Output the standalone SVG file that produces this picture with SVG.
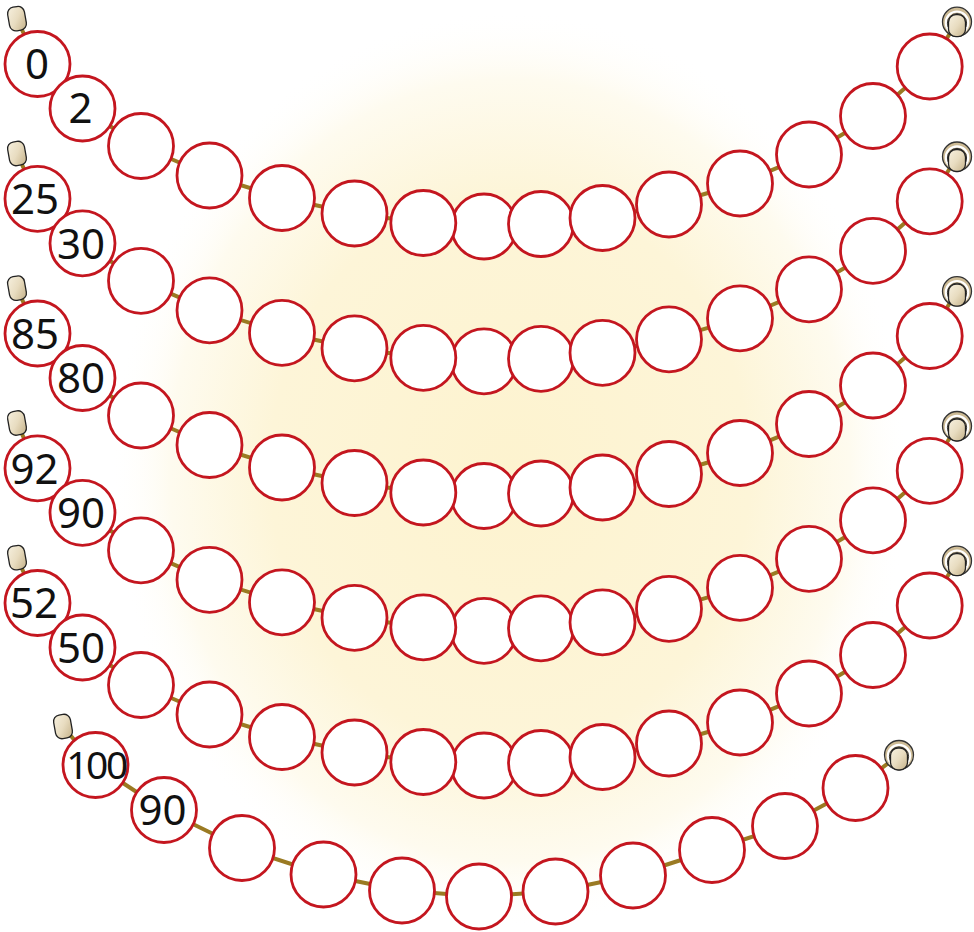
<svg xmlns="http://www.w3.org/2000/svg" width="974" height="932" viewBox="0 0 974 932">
<style>
.str{fill:none;stroke:#9a7a22;stroke-width:4;stroke-linejoin:round;stroke-linecap:round}
.bead{fill:#fff;stroke:#c4161f;stroke-width:2.8}
.lbl{font-family:"Noto Sans","DejaVu Sans",sans-serif;font-size:42px;fill:#111;text-anchor:middle}
.cap{fill:url(#capG);stroke:#222;stroke-width:1.3}
.sh-o{fill:#cdbb95;stroke:#333;stroke-width:1.3}
.sh-w{fill:none;stroke:#fff;stroke-width:2.2}
.sh-i{fill:none;stroke:#333;stroke-width:1}
</style>
<defs>
<radialGradient id="glow" cx="0.5" cy="0.5" r="0.5">
<stop offset="0" stop-color="#fdf3cf"/>
<stop offset="0.6" stop-color="#fdf5d8"/>
<stop offset="0.85" stop-color="#fefbef"/>
<stop offset="1" stop-color="#ffffff" stop-opacity="0"/>
</radialGradient>
<linearGradient id="capG" x1="0" y1="0" x2="1" y2="1">
<stop offset="0" stop-color="#f7f1e0"/>
<stop offset="0.5" stop-color="#e8dcc0"/>
<stop offset="1" stop-color="#c4b188"/>
</linearGradient>
<g id="lcap"><rect class="cap" x="-8.5" y="-12" width="17" height="24" rx="6.5"/></g>
<g id="rcap">
<circle class="sh-o" r="14.5"/>
<circle class="sh-w" r="11.2" cy="1"/>
<circle class="sh-i" r="9.6" cy="1.5"/>
<rect class="cap" x="-8.5" y="-7" width="17" height="22" rx="7.5"/>
</g>
</defs>
<rect width="974" height="932" fill="#fff"/>
<rect x="110" y="10" width="800" height="920" fill="url(#glow)"/>

<g id="connectors">
<polyline class="str" points="17,18.7 37.5,64 82.5,108.5 141,146 209.5,175.5 282,198 354.5,213.5 423.3,223 484,226.5 541,224 602.5,218 669,204.5 740,183.5 809,154.5 873,116 929.7,66.5 957,21.7"/>
<polyline class="str" points="17,153.5 37.5,198.8 82.5,243.3 141,280.8 209.5,310.3 282,332.8 354.5,348.3 423.3,357.8 484,361.3 541,358.8 602.5,352.8 669,339.3 740,318.3 809,289.3 873,250.8 929.7,201.3 957,156.5"/>
<polyline class="str" points="17,288.2 37.5,333.5 82.5,378 141,415.5 209.5,445 282,467.5 354.5,483 423.3,492.5 484,496 541,493.5 602.5,487.5 669,474 740,453 809,424 873,385.5 929.7,336 957,291.2"/>
<polyline class="str" points="17,423 37.5,468.3 82.5,512.8 141,550.3 209.5,579.8 282,602.3 354.5,617.8 423.3,627.3 484,630.8 541,628.3 602.5,622.3 669,608.8 740,587.8 809,558.8 873,520.3 929.7,470.8 957,426"/>
<polyline class="str" points="17,557.7 37.5,603 82.5,647.5 141,685 209.5,714.5 282,737 354.5,752.5 423.3,762 484,765.5 541,763 602.5,757 669,743.5 740,722.5 809,693.5 873,655 929.7,605.5 957,560.7"/>
<polyline class="str" points="63,726.5 95.5,765 164,810 242,848 323.5,874.5 402,890.5 479,896.5 555.5,891.5 633,875.5 712,850 785,826 855.5,788 899,755"/>
</g>

<g id="caps">
<use href="#lcap" transform="translate(17,18.7) rotate(-10)"/>
<use href="#lcap" transform="translate(17,153.5) rotate(-10)"/>
<use href="#lcap" transform="translate(17,288.2) rotate(-10)"/>
<use href="#lcap" transform="translate(17,423) rotate(-10)"/>
<use href="#lcap" transform="translate(17,557.7) rotate(-10)"/>
<use href="#lcap" transform="translate(63,726.5) rotate(-10)"/>
<use href="#rcap" transform="translate(957,21.7)"/>
<use href="#rcap" transform="translate(957,156.5)"/>
<use href="#rcap" transform="translate(957,291.2)"/>
<use href="#rcap" transform="translate(957,426)"/>
<use href="#rcap" transform="translate(957,560.7)"/>
<use href="#rcap" transform="translate(899,755)"/>
</g>

<g id="row1">
<g id="r1b8"><circle class="bead" cx="484" cy="226.5" r="32.5"/></g>
<g id="r1b1"><circle class="bead" cx="37.5" cy="64" r="32.5"/><text class="lbl" x="37" y="79">0</text></g>
<g id="r1b2"><circle class="bead" cx="82.5" cy="108.5" r="32.5"/><text class="lbl" x="80.5" y="123">2</text></g>
<g id="r1b3"><circle class="bead" cx="141" cy="146" r="32.5"/></g>
<g id="r1b4"><circle class="bead" cx="209.5" cy="175.5" r="32.5"/></g>
<g id="r1b5"><circle class="bead" cx="282" cy="198" r="32.5"/></g>
<g id="r1b6"><circle class="bead" cx="354.5" cy="213.5" r="32.5"/></g>
<g id="r1b7"><circle class="bead" cx="423.3" cy="223" r="32.5"/></g>
<g id="r1b9"><circle class="bead" cx="541" cy="224" r="32.5"/></g>
<g id="r1b10"><circle class="bead" cx="602.5" cy="218" r="32.5"/></g>
<g id="r1b11"><circle class="bead" cx="669" cy="204.5" r="32.5"/></g>
<g id="r1b12"><circle class="bead" cx="740" cy="183.5" r="32.5"/></g>
<g id="r1b13"><circle class="bead" cx="809" cy="154.5" r="32.5"/></g>
<g id="r1b14"><circle class="bead" cx="873" cy="116" r="32.5"/></g>
<g id="r1b15"><circle class="bead" cx="929.7" cy="66.5" r="32.5"/></g>
</g>

<g id="row2">
<g id="r2b8"><circle class="bead" cx="484" cy="361.3" r="32.5"/></g>
<g id="r2b1"><circle class="bead" cx="37.5" cy="198.8" r="32.5"/><text class="lbl" x="35" y="214">25</text></g>
<g id="r2b2"><circle class="bead" cx="82.5" cy="243.3" r="32.5"/><text class="lbl" x="81" y="258.5">30</text></g>
<g id="r2b3"><circle class="bead" cx="141" cy="280.8" r="32.5"/></g>
<g id="r2b4"><circle class="bead" cx="209.5" cy="310.3" r="32.5"/></g>
<g id="r2b5"><circle class="bead" cx="282" cy="332.8" r="32.5"/></g>
<g id="r2b6"><circle class="bead" cx="354.5" cy="348.3" r="32.5"/></g>
<g id="r2b7"><circle class="bead" cx="423.3" cy="357.8" r="32.5"/></g>
<g id="r2b9"><circle class="bead" cx="541" cy="358.8" r="32.5"/></g>
<g id="r2b10"><circle class="bead" cx="602.5" cy="352.8" r="32.5"/></g>
<g id="r2b11"><circle class="bead" cx="669" cy="339.3" r="32.5"/></g>
<g id="r2b12"><circle class="bead" cx="740" cy="318.3" r="32.5"/></g>
<g id="r2b13"><circle class="bead" cx="809" cy="289.3" r="32.5"/></g>
<g id="r2b14"><circle class="bead" cx="873" cy="250.8" r="32.5"/></g>
<g id="r2b15"><circle class="bead" cx="929.7" cy="201.3" r="32.5"/></g>
</g>

<g id="row3">
<g id="r3b8"><circle class="bead" cx="484" cy="496" r="32.5"/></g>
<g id="r3b1"><circle class="bead" cx="37.5" cy="333.5" r="32.5"/><text class="lbl" x="35" y="348.5">85</text></g>
<g id="r3b2"><circle class="bead" cx="82.5" cy="378" r="32.5"/><text class="lbl" x="81" y="393">80</text></g>
<g id="r3b3"><circle class="bead" cx="141" cy="415.5" r="32.5"/></g>
<g id="r3b4"><circle class="bead" cx="209.5" cy="445" r="32.5"/></g>
<g id="r3b5"><circle class="bead" cx="282" cy="467.5" r="32.5"/></g>
<g id="r3b6"><circle class="bead" cx="354.5" cy="483" r="32.5"/></g>
<g id="r3b7"><circle class="bead" cx="423.3" cy="492.5" r="32.5"/></g>
<g id="r3b9"><circle class="bead" cx="541" cy="493.5" r="32.5"/></g>
<g id="r3b10"><circle class="bead" cx="602.5" cy="487.5" r="32.5"/></g>
<g id="r3b11"><circle class="bead" cx="669" cy="474" r="32.5"/></g>
<g id="r3b12"><circle class="bead" cx="740" cy="453" r="32.5"/></g>
<g id="r3b13"><circle class="bead" cx="809" cy="424" r="32.5"/></g>
<g id="r3b14"><circle class="bead" cx="873" cy="385.5" r="32.5"/></g>
<g id="r3b15"><circle class="bead" cx="929.7" cy="336" r="32.5"/></g>
</g>

<g id="row4">
<g id="r4b8"><circle class="bead" cx="484" cy="630.8" r="32.5"/></g>
<g id="r4b1"><circle class="bead" cx="37.5" cy="468.3" r="32.5"/><text class="lbl" x="34.5" y="483.5">92</text></g>
<g id="r4b2"><circle class="bead" cx="82.5" cy="512.8" r="32.5"/><text class="lbl" x="81" y="528">90</text></g>
<g id="r4b3"><circle class="bead" cx="141" cy="550.3" r="32.5"/></g>
<g id="r4b4"><circle class="bead" cx="209.5" cy="579.8" r="32.5"/></g>
<g id="r4b5"><circle class="bead" cx="282" cy="602.3" r="32.5"/></g>
<g id="r4b6"><circle class="bead" cx="354.5" cy="617.8" r="32.5"/></g>
<g id="r4b7"><circle class="bead" cx="423.3" cy="627.3" r="32.5"/></g>
<g id="r4b9"><circle class="bead" cx="541" cy="628.3" r="32.5"/></g>
<g id="r4b10"><circle class="bead" cx="602.5" cy="622.3" r="32.5"/></g>
<g id="r4b11"><circle class="bead" cx="669" cy="608.8" r="32.5"/></g>
<g id="r4b12"><circle class="bead" cx="740" cy="587.8" r="32.5"/></g>
<g id="r4b13"><circle class="bead" cx="809" cy="558.8" r="32.5"/></g>
<g id="r4b14"><circle class="bead" cx="873" cy="520.3" r="32.5"/></g>
<g id="r4b15"><circle class="bead" cx="929.7" cy="470.8" r="32.5"/></g>
</g>

<g id="row5">
<g id="r5b8"><circle class="bead" cx="484" cy="765.5" r="32.5"/></g>
<g id="r5b1"><circle class="bead" cx="37.5" cy="603" r="32.5"/><text class="lbl" x="34" y="618">52</text></g>
<g id="r5b2"><circle class="bead" cx="82.5" cy="647.5" r="32.5"/><text class="lbl" x="81" y="662.5">50</text></g>
<g id="r5b3"><circle class="bead" cx="141" cy="685" r="32.5"/></g>
<g id="r5b4"><circle class="bead" cx="209.5" cy="714.5" r="32.5"/></g>
<g id="r5b5"><circle class="bead" cx="282" cy="737" r="32.5"/></g>
<g id="r5b6"><circle class="bead" cx="354.5" cy="752.5" r="32.5"/></g>
<g id="r5b7"><circle class="bead" cx="423.3" cy="762" r="32.5"/></g>
<g id="r5b9"><circle class="bead" cx="541" cy="763" r="32.5"/></g>
<g id="r5b10"><circle class="bead" cx="602.5" cy="757" r="32.5"/></g>
<g id="r5b11"><circle class="bead" cx="669" cy="743.5" r="32.5"/></g>
<g id="r5b12"><circle class="bead" cx="740" cy="722.5" r="32.5"/></g>
<g id="r5b13"><circle class="bead" cx="809" cy="693.5" r="32.5"/></g>
<g id="r5b14"><circle class="bead" cx="873" cy="655" r="32.5"/></g>
<g id="r5b15"><circle class="bead" cx="929.7" cy="605.5" r="32.5"/></g>
</g>

<g id="row6">
<g id="r6b1"><circle class="bead" cx="95.5" cy="765" r="32.5"/><text class="lbl" x="96" y="779" style="font-size:39px" letter-spacing="-2.5">100</text></g>
<g id="r6b2"><circle class="bead" cx="164" cy="810" r="32.5"/><text class="lbl" x="162.5" y="825">90</text></g>
<g id="r6b3"><circle class="bead" cx="242" cy="848" r="32.5"/></g>
<g id="r6b4"><circle class="bead" cx="323.5" cy="874.5" r="32.5"/></g>
<g id="r6b5"><circle class="bead" cx="402" cy="890.5" r="32.5"/></g>
<g id="r6b6"><circle class="bead" cx="479" cy="896.5" r="32.5"/></g>
<g id="r6b7"><circle class="bead" cx="555.5" cy="891.5" r="32.5"/></g>
<g id="r6b8"><circle class="bead" cx="633" cy="875.5" r="32.5"/></g>
<g id="r6b9"><circle class="bead" cx="712" cy="850" r="32.5"/></g>
<g id="r6b10"><circle class="bead" cx="785" cy="826" r="32.5"/></g>
<g id="r6b11"><circle class="bead" cx="855.5" cy="788" r="32.5"/></g>
</g>
</svg>
